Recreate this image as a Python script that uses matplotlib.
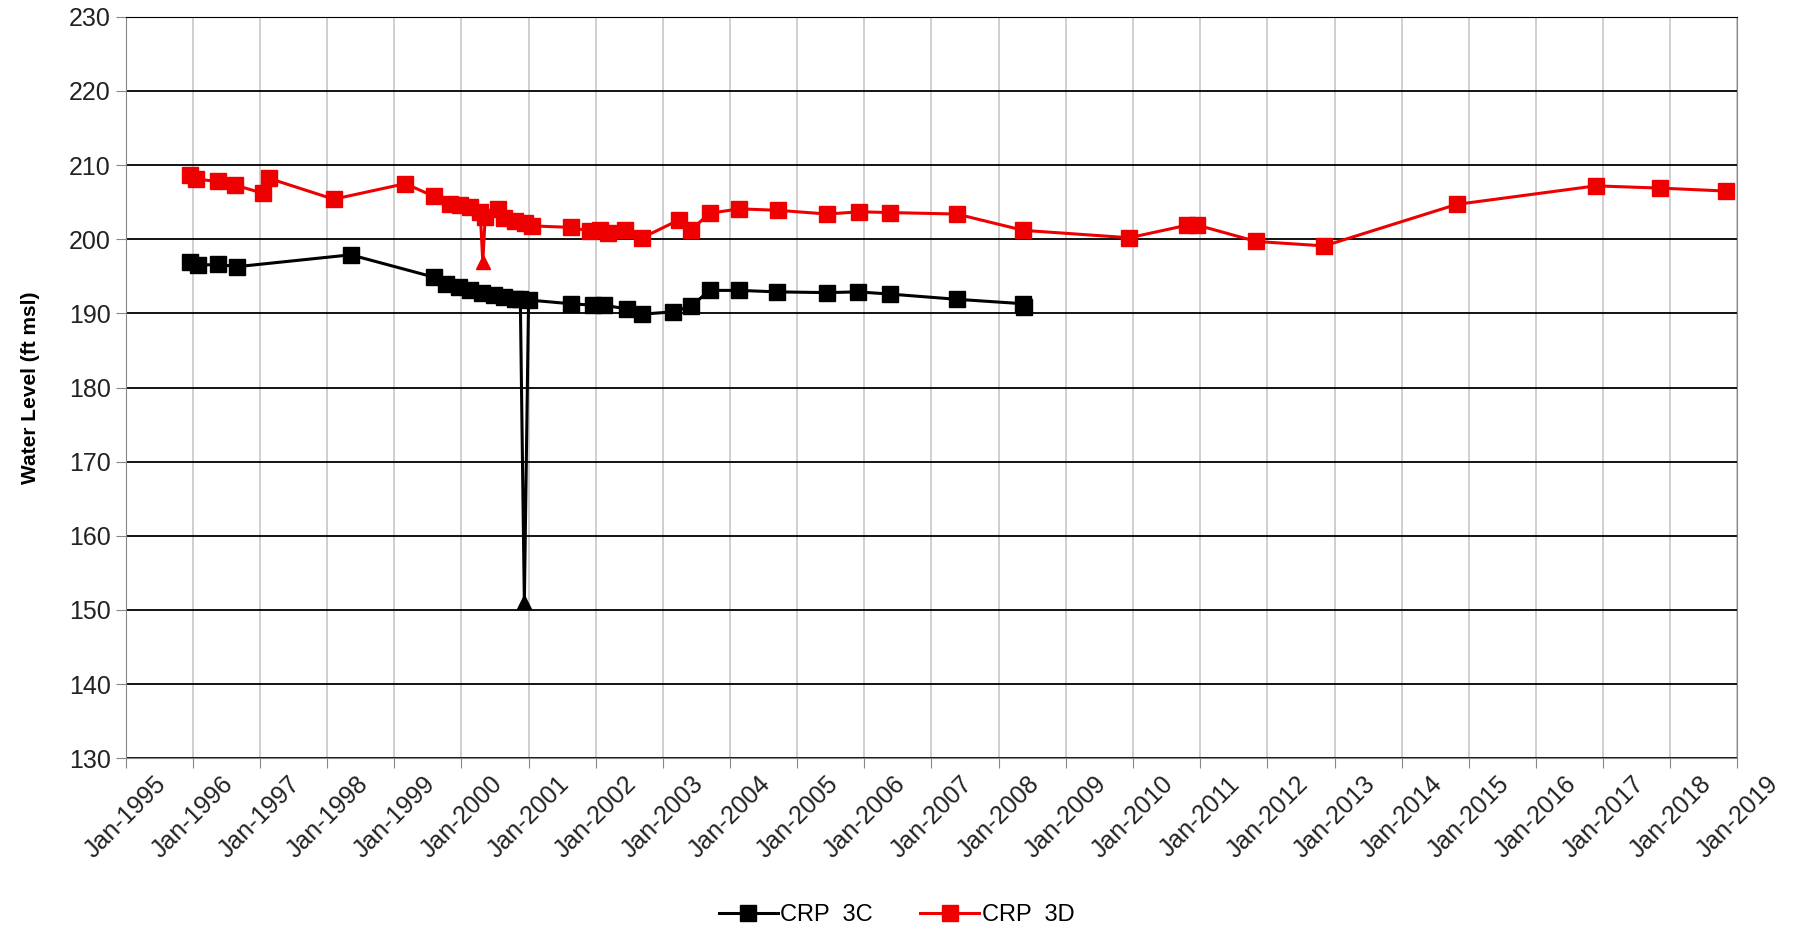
import matplotlib.pyplot as plt
import matplotlib.dates as mdates
import pandas as pd

plt.rcParams['font.family'] = ['Liberation Sans', 'DejaVu Sans']

# CRP 3C (black)
dates_3c = ['1995-12-17', '1996-01-28', '1996-05-18', '1996-08-30', '1998-05-10',
            '1999-08-03', '1999-10-12', '1999-12-17', '2000-02-17', '2000-04-22',
            '2000-06-25', '2000-08-18', '2000-10-19', '2000-11-17', '2000-12-09',
            '2001-01-01', '2001-08-18', '2001-12-20', '2002-02-14', '2002-06-20',
            '2002-09-12', '2003-02-24', '2003-06-06', '2003-09-12', '2004-02-21',
            '2004-09-12', '2005-06-13', '2005-11-28', '2006-05-22', '2007-05-18',
            '2008-05-15', '2008-05-20']
level_3c = [196.9, 196.5, 196.6, 196.3, 197.9,
            194.9, 194.0, 193.6, 193.2, 192.7,
            192.5, 192.2, 192.0, 192.0, 151.0,
            191.8, 191.3, 191.1, 191.1, 190.6,
            189.9, 190.2, 191.0, 193.1, 193.1,
            192.9, 192.8, 192.9, 192.6, 191.9,
            191.3, 190.9]
flag_3c = '2000-12-09'

# CRP 3D (red)
dates_3d = ['1995-12-17', '1996-01-22', '1996-05-18', '1996-08-18', '1997-01-19',
            '1997-02-21', '1998-02-06', '1999-03-03', '1999-08-03', '1999-10-30',
            '1999-12-24', '2000-02-17', '2000-04-13', '2000-04-27', '2000-05-10',
            '2000-07-19', '2000-08-18', '2000-10-19', '2000-12-12', '2001-01-19',
            '2001-08-18', '2001-12-01', '2002-01-26', '2002-03-10', '2002-06-10',
            '2002-09-12', '2003-03-29', '2003-06-06', '2003-09-12', '2004-02-21',
            '2004-09-20', '2005-06-13', '2005-12-05', '2006-05-22', '2007-05-18',
            '2008-05-15', '2009-12-12', '2010-10-23', '2010-12-17', '2011-11-03',
            '2012-11-06', '2014-10-27', '2016-11-21', '2017-11-06', '2018-10-30']
level_3d = [208.6, 208.1, 207.8, 207.3, 206.2,
            208.2, 205.4, 207.5, 205.8, 204.8,
            204.6, 204.3, 203.7, 196.9, 203.0,
            204.1, 202.9, 202.4, 202.2, 201.8,
            201.6, 201.1, 201.3, 200.9, 201.2,
            200.2, 202.6, 201.3, 203.5, 204.1,
            203.9, 203.4, 203.7, 203.6, 203.4,
            201.2, 200.2, 201.9, 201.9, 199.7,
            199.1, 204.7, 207.2, 206.9, 206.5]
flag_3d = '2000-04-27'

df3c = pd.DataFrame({'date': pd.to_datetime(dates_3c), 'level': level_3c})
df3d = pd.DataFrame({'date': pd.to_datetime(dates_3d), 'level': level_3d})

fig, ax = plt.subplots(figsize=(17.93, 9.36), dpi=100)
fig.subplots_adjust(left=0.070, right=0.969, top=0.982, bottom=0.190)

for df, flag, col, lab in [(df3c, flag_3c, 'black', 'CRP  3C'), (df3d, flag_3d, '#ee0000', 'CRP  3D')]:
    ax.plot(df['date'], df['level'], color=col, lw=2.2, zorder=3)
    normal = df[df['date'] != pd.Timestamp(flag)]
    low = df[df['date'] == pd.Timestamp(flag)]
    ax.plot(normal['date'], normal['level'], ls='none', marker='s', ms=11.5, color=col, zorder=4)
    ax.plot(low['date'], low['level'], ls='none', marker='^', ms=10, color=col, zorder=4)
    ax.plot([], [], color=col, lw=2.2, marker='s', ms=11.5, label=lab)

ax.set_ylim(130, 230)
ax.set_yticks(range(130, 231, 10))
ax.set_xlim(pd.Timestamp('1995-01-01'), pd.Timestamp('2019-01-01'))
ax.xaxis.set_major_locator(mdates.YearLocator())
ax.xaxis.set_major_formatter(mdates.DateFormatter('%b-%Y'))

ax.grid(axis='y', color='black', lw=1.3, zorder=1)
ax.grid(axis='x', color='#cccccc', lw=1.3, zorder=0)
for side in ['left', 'bottom', 'right']:
    ax.spines[side].set_color('#888888')
ax.spines['top'].set_color('black')
ax.tick_params(axis='both', colors='#888888', length=7, labelcolor='#222222', labelsize=18)
ax.tick_params(axis='x', pad=3)
plt.setp(ax.get_xticklabels(), rotation=45, ha='center')

ax.set_ylabel('Water Level (ft msl)', fontsize=15, fontweight='bold')
ax.yaxis.set_label_coords(-0.053, 0.5)

fig.legend(loc='center', ncol=2, frameon=False, fontsize=17,
           bbox_to_anchor=(0.5, 0.022), handlelength=2.5, handletextpad=0.1, columnspacing=2)

plt.savefig('out.png', dpi=100)
